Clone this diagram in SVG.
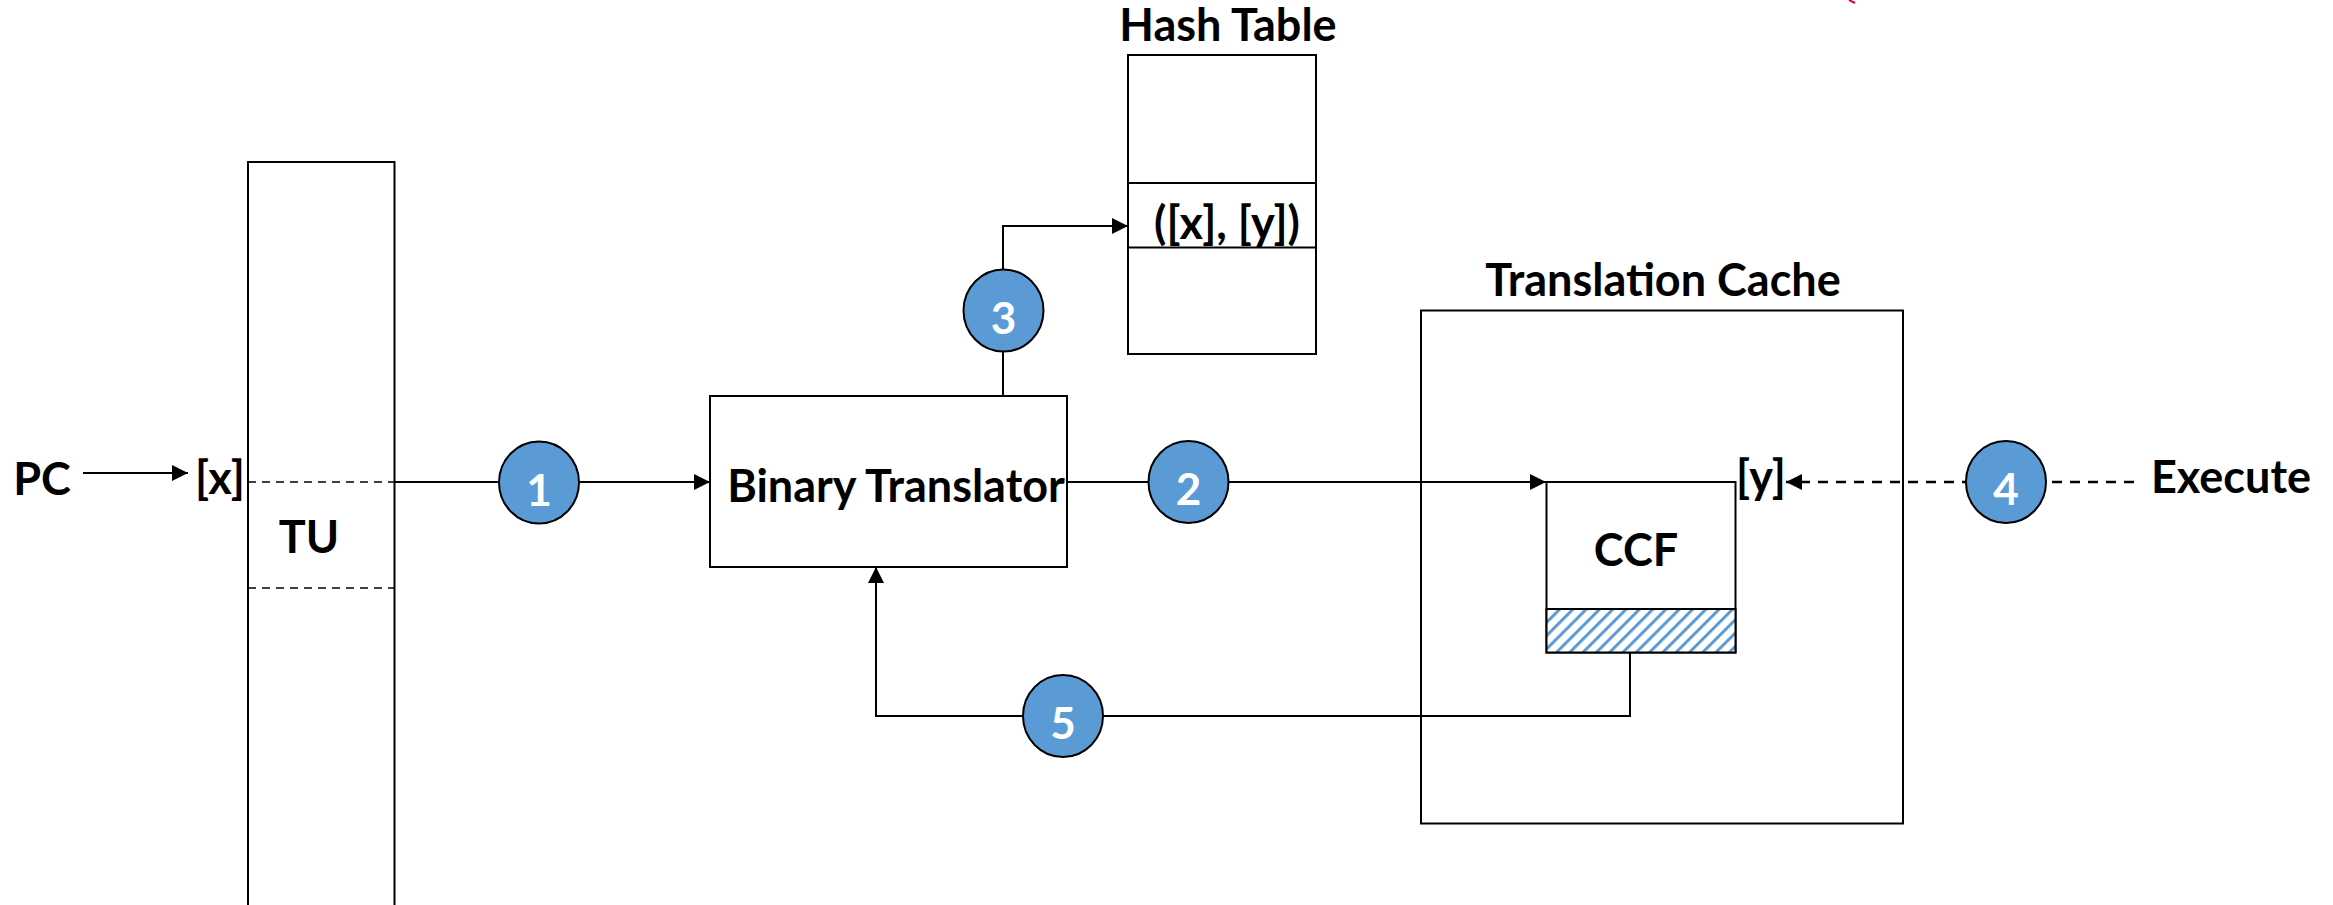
<svg xmlns="http://www.w3.org/2000/svg" width="2333" height="905" viewBox="0 0 2333 905">
<style>
  .box{fill:#fff;stroke:#000;stroke-width:2}
  .lbl{font-family:Lato,"Open Sans","Liberation Sans",sans-serif;font-weight:bold;font-size:45px;fill:#000;text-anchor:middle}
  .num{font-family:Lato,"Open Sans","Liberation Sans",sans-serif;font-weight:bold;font-size:44px;fill:#fff;text-anchor:middle}
  .step{fill:#5B9BD5;stroke:#000;stroke-width:2}
  .conn{fill:none;stroke:#000;stroke-width:2}
  .dash{fill:none;stroke:#000;stroke-width:2.5;stroke-dasharray:10 8}
  .tudash{fill:none;stroke:#000;stroke-width:1.5;stroke-dasharray:8 6}
</style>
<defs>
  <marker id="arr" markerUnits="userSpaceOnUse" markerWidth="16" markerHeight="16" refX="16" refY="8" orient="auto">
    <path d="M0,0 L16,8 L0,16 z" fill="#000"/>
  </marker>
  <pattern id="hatch" patternUnits="userSpaceOnUse" width="9.4" height="9.4" patternTransform="rotate(45)">
    <rect width="9.4" height="9.4" fill="#fff"/>
    <line x1="1.5" y1="0" x2="1.5" y2="9.4" stroke="#5B9BD5" stroke-width="3"/>
  </pattern>
</defs>
<rect width="2333" height="905" fill="#fff"/>
<path d="M1849,0 L1855,3" stroke="#e0004d" stroke-width="2" fill="none"/>

<g id="pc">
  <text class="lbl" x="42" y="495">PC</text>
</g>
<g id="tu">
  <rect class="box" x="248" y="162" width="146.5" height="760"/>
  <line class="tudash" x1="248" y1="482" x2="394" y2="482"/>
  <line class="tudash" x1="248" y1="588" x2="394" y2="588"/>
  <text class="lbl" x="309" y="553">TU</text>
  <text class="lbl" x="220" y="494">[x]</text>
</g>
<g id="binary-translator">
  <rect class="box" x="710" y="396" width="357" height="171"/>
  <text class="lbl" x="896" y="502">Binary Translator</text>
</g>
<g id="hash-table">
  <text class="lbl" x="1228" y="41">Hash Table</text>
  <rect class="box" x="1128" y="55" width="188" height="299"/>
  <line class="conn" x1="1128" y1="183" x2="1316" y2="183"/>
  <line class="conn" x1="1128" y1="247.5" x2="1316" y2="247.5"/>
  <text class="lbl" x="1227" y="239">([x], [y])</text>
</g>
<g id="translation-cache">
  <text class="lbl" x="1663" y="296">Translation Cache</text>
  <rect class="box" x="1421" y="310.5" width="482" height="513"/>
</g>
<g id="ccf">
  <rect class="box" x="1546.5" y="482" width="189" height="170.5"/>
  <rect x="1546.5" y="609" width="189" height="43.5" fill="url(#hatch)" stroke="#000" stroke-width="2"/>
  <text class="lbl" x="1636" y="566">CCF</text>
  <text class="lbl" x="1761" y="493">[y]</text>
</g>
<g id="execute">
  <text class="lbl" x="2231" y="493">Execute</text>
</g>

<g id="connectors">
  <line class="conn" x1="83" y1="473" x2="188" y2="473" marker-end="url(#arr)"/>
  <path class="conn" d="M394,482 H710" marker-end="url(#arr)"/>
  <path class="conn" d="M1067,482 H1546" marker-end="url(#arr)"/>
  <path class="conn" d="M1003,396 V226 H1128" marker-end="url(#arr)"/>
  <path class="dash" d="M2134,482 H1786" marker-end="url(#arr)"/>
  <path class="conn" d="M1630,652.5 V716 H876 V567" marker-end="url(#arr)"/>
</g>

<g id="step1">
  <ellipse class="step" cx="539" cy="482.5" rx="40" ry="41"/>
  <text class="num" x="539" y="506">1</text>
</g>
<g id="step2">
  <ellipse class="step" cx="1188.5" cy="482" rx="40" ry="41"/>
  <text class="num" x="1188.5" y="505">2</text>
</g>
<g id="step3">
  <ellipse class="step" cx="1003.5" cy="310.5" rx="40" ry="41"/>
  <text class="num" x="1003.5" y="334">3</text>
</g>
<g id="step4">
  <ellipse class="step" cx="2006" cy="482" rx="40" ry="41"/>
  <text class="num" x="2006" y="505">4</text>
</g>
<g id="step5">
  <ellipse class="step" cx="1063" cy="716" rx="40" ry="41"/>
  <text class="num" x="1063" y="739">5</text>
</g>
</svg>
